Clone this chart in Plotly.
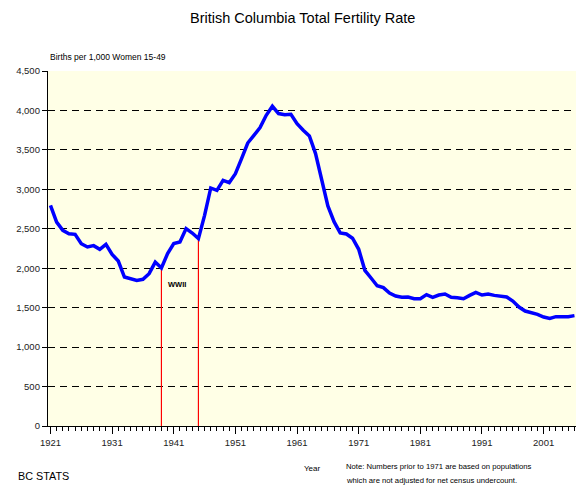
import plotly.graph_objects as go

years = list(range(1921, 2007))
tfr = [2797, 2585, 2480, 2438, 2430, 2311, 2269, 2286, 2239, 2302,
       2176, 2091, 1888, 1868, 1846, 1859, 1931, 2078, 2002, 2185,
       2312, 2332, 2502, 2446, 2375, 2670, 3017, 2987, 3114, 3085,
       3199, 3389, 3587, 3685, 3782, 3938, 4053, 3960, 3947, 3951,
       3833, 3750, 3676, 3453, 3114, 2790, 2590, 2448, 2434, 2380,
       2240, 1973, 1876, 1778, 1754, 1685, 1647, 1631, 1635, 1614,
       1614, 1665, 1631, 1660, 1673, 1631, 1627, 1614, 1656, 1694,
       1660, 1673, 1656, 1643, 1635, 1584, 1508, 1457, 1437, 1415,
       1381, 1364, 1386, 1381, 1386, 1399]
major_years = list(range(1921, 2002, 10))
major_labels = [str(y) for y in major_years]
y_ticks = list(range(0, 4501, 500))
wwii_years = [1939, 1945]

FONT = "Liberation Sans, Arial, sans-serif"

fig = go.Figure()

# WWII marker lines (from data value down to axis)
for yr in wwii_years:
    v = tfr[years.index(yr)]
    fig.add_trace(go.Scatter(x=[yr, yr], y=[0, v], mode="lines",
                             line=dict(color="#FF0000", width=1.2),
                             hoverinfo="skip", showlegend=False))

fig.add_trace(go.Scatter(x=years, y=tfr, mode="lines",
                         line=dict(color="#0000FF", width=3.5),
                         showlegend=False))

fig.update_layout(
    width=576, height=487,
    margin=dict(l=48, r=0, t=71, b=61, autoexpand=False),
    paper_bgcolor="white",
    plot_bgcolor="#FFFFE6",
    font=dict(family=FONT, color="#000000", size=9),
    showlegend=False,
)

fig.update_xaxes(
    range=[1920.6, 2006.25],
    tickmode="array", tickvals=major_years, ticktext=major_labels,
    ticks="outside", ticklen=7, tickwidth=1, tickcolor="black",
    showline=True, linecolor="black", linewidth=1.3,
    showgrid=False, zeroline=False,
    tickfont=dict(size=9.5, family=FONT, color="#222"),
    minor=dict(tick0=1921, dtick=1, ticks="outside", ticklen=4,
               tickcolor="black", tickwidth=1, showgrid=False),
)

fig.update_yaxes(
    range=[0, 4500],
    tickmode="array", tickvals=y_ticks,
    ticktext=[f"{v:,}" for v in y_ticks],
    ticks="outside", ticklen=5, tickwidth=1, tickcolor="black",
    showline=True, linecolor="black", linewidth=1.3,
    showgrid=True, gridcolor="black", gridwidth=1, griddash="7px,5px",
    zeroline=False,
    tickfont=dict(size=9.5, family=FONT, color="#222"),
)

annots = [
    dict(text="British Columbia Total Fertility Rate", x=0.482, y=1.149,
         font=dict(size=14.5), xanchor="center", yanchor="middle"),
    dict(text="Births per 1,000 Women 15-49", x=0.0, y=1.039,
         font=dict(size=8.5), xanchor="left", yanchor="middle"),
    dict(text="BC STATS", x=-0.0606, y=-0.142,
         font=dict(size=10.8), xanchor="left", yanchor="middle"),
    dict(text="Year", x=0.5, y=-0.1195,
         font=dict(size=8), xanchor="center", yanchor="middle"),
    dict(text="Note: Numbers prior to 1971 are based on populations", x=0.5606, y=-0.1145,
         font=dict(size=7.7), xanchor="left", yanchor="middle"),
    dict(text="which are not adjusted for net census undercount.", x=0.5606, y=-0.154,
         font=dict(size=7.7), xanchor="left", yanchor="middle"),
]
for a in annots:
    fig.add_annotation(xref="paper", yref="paper", showarrow=False, **a)

fig.add_annotation(xref="x", yref="y", x=1939.8, y=1795, text="<b>WWII</b>",
                   showarrow=False, xanchor="left", yanchor="middle",
                   font=dict(size=7.5))

fig.write_html("out.html",
               config={"displayModeBar": False},
               post_script="document.body.style.margin='0';document.body.style.overflow='hidden';")
